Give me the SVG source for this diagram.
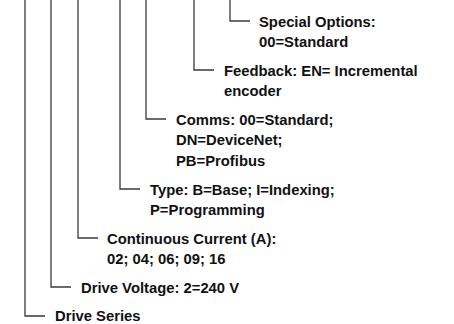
<svg xmlns="http://www.w3.org/2000/svg" width="454" height="324" viewBox="0 0 454 324">
<style>
.c{fill:none;stroke:#3a3a3a;stroke-width:1.3}
text{font-family:"Liberation Sans",Arial,sans-serif;font-weight:bold;font-size:14.8px;fill:#111}
</style>
<rect width="454" height="324" fill="#fff"/>
<g id="connectors">
<path class="c" d="M230,0V21H250"/>
<path class="c" d="M194,0V70H214"/>
<path class="c" d="M146,0V119H166"/>
<path class="c" d="M120,0V189H140"/>
<path class="c" d="M78,0V238H98"/>
<path class="c" d="M51,0V287H71"/>
<path class="c" d="M25,0V316H45"/>
</g>
<g id="special"><text x="259" y="26.5">Special Options:</text><text x="259" y="47">00=Standard</text></g>
<g id="feedback"><text x="224" y="75.5">Feedback: EN= Incremental</text><text x="224" y="96">encoder</text></g>
<g id="comms"><text x="176" y="124.5">Comms: 00=Standard;</text><text x="176" y="145">DN=DeviceNet;</text><text x="176" y="165.5">PB=Profibus</text></g>
<g id="type"><text x="150" y="194.5">Type: B=Base; I=Indexing;</text><text x="150" y="215">P=Programming</text></g>
<g id="current"><text x="107" y="243.5">Continuous Current (A):</text><text x="107" y="264">02; 04; 06; 09; 16</text></g>
<g id="voltage"><text x="81" y="292.5">Drive Voltage: 2=240 V</text></g>
<g id="series"><text x="55" y="321">Drive Series</text></g>
</svg>
